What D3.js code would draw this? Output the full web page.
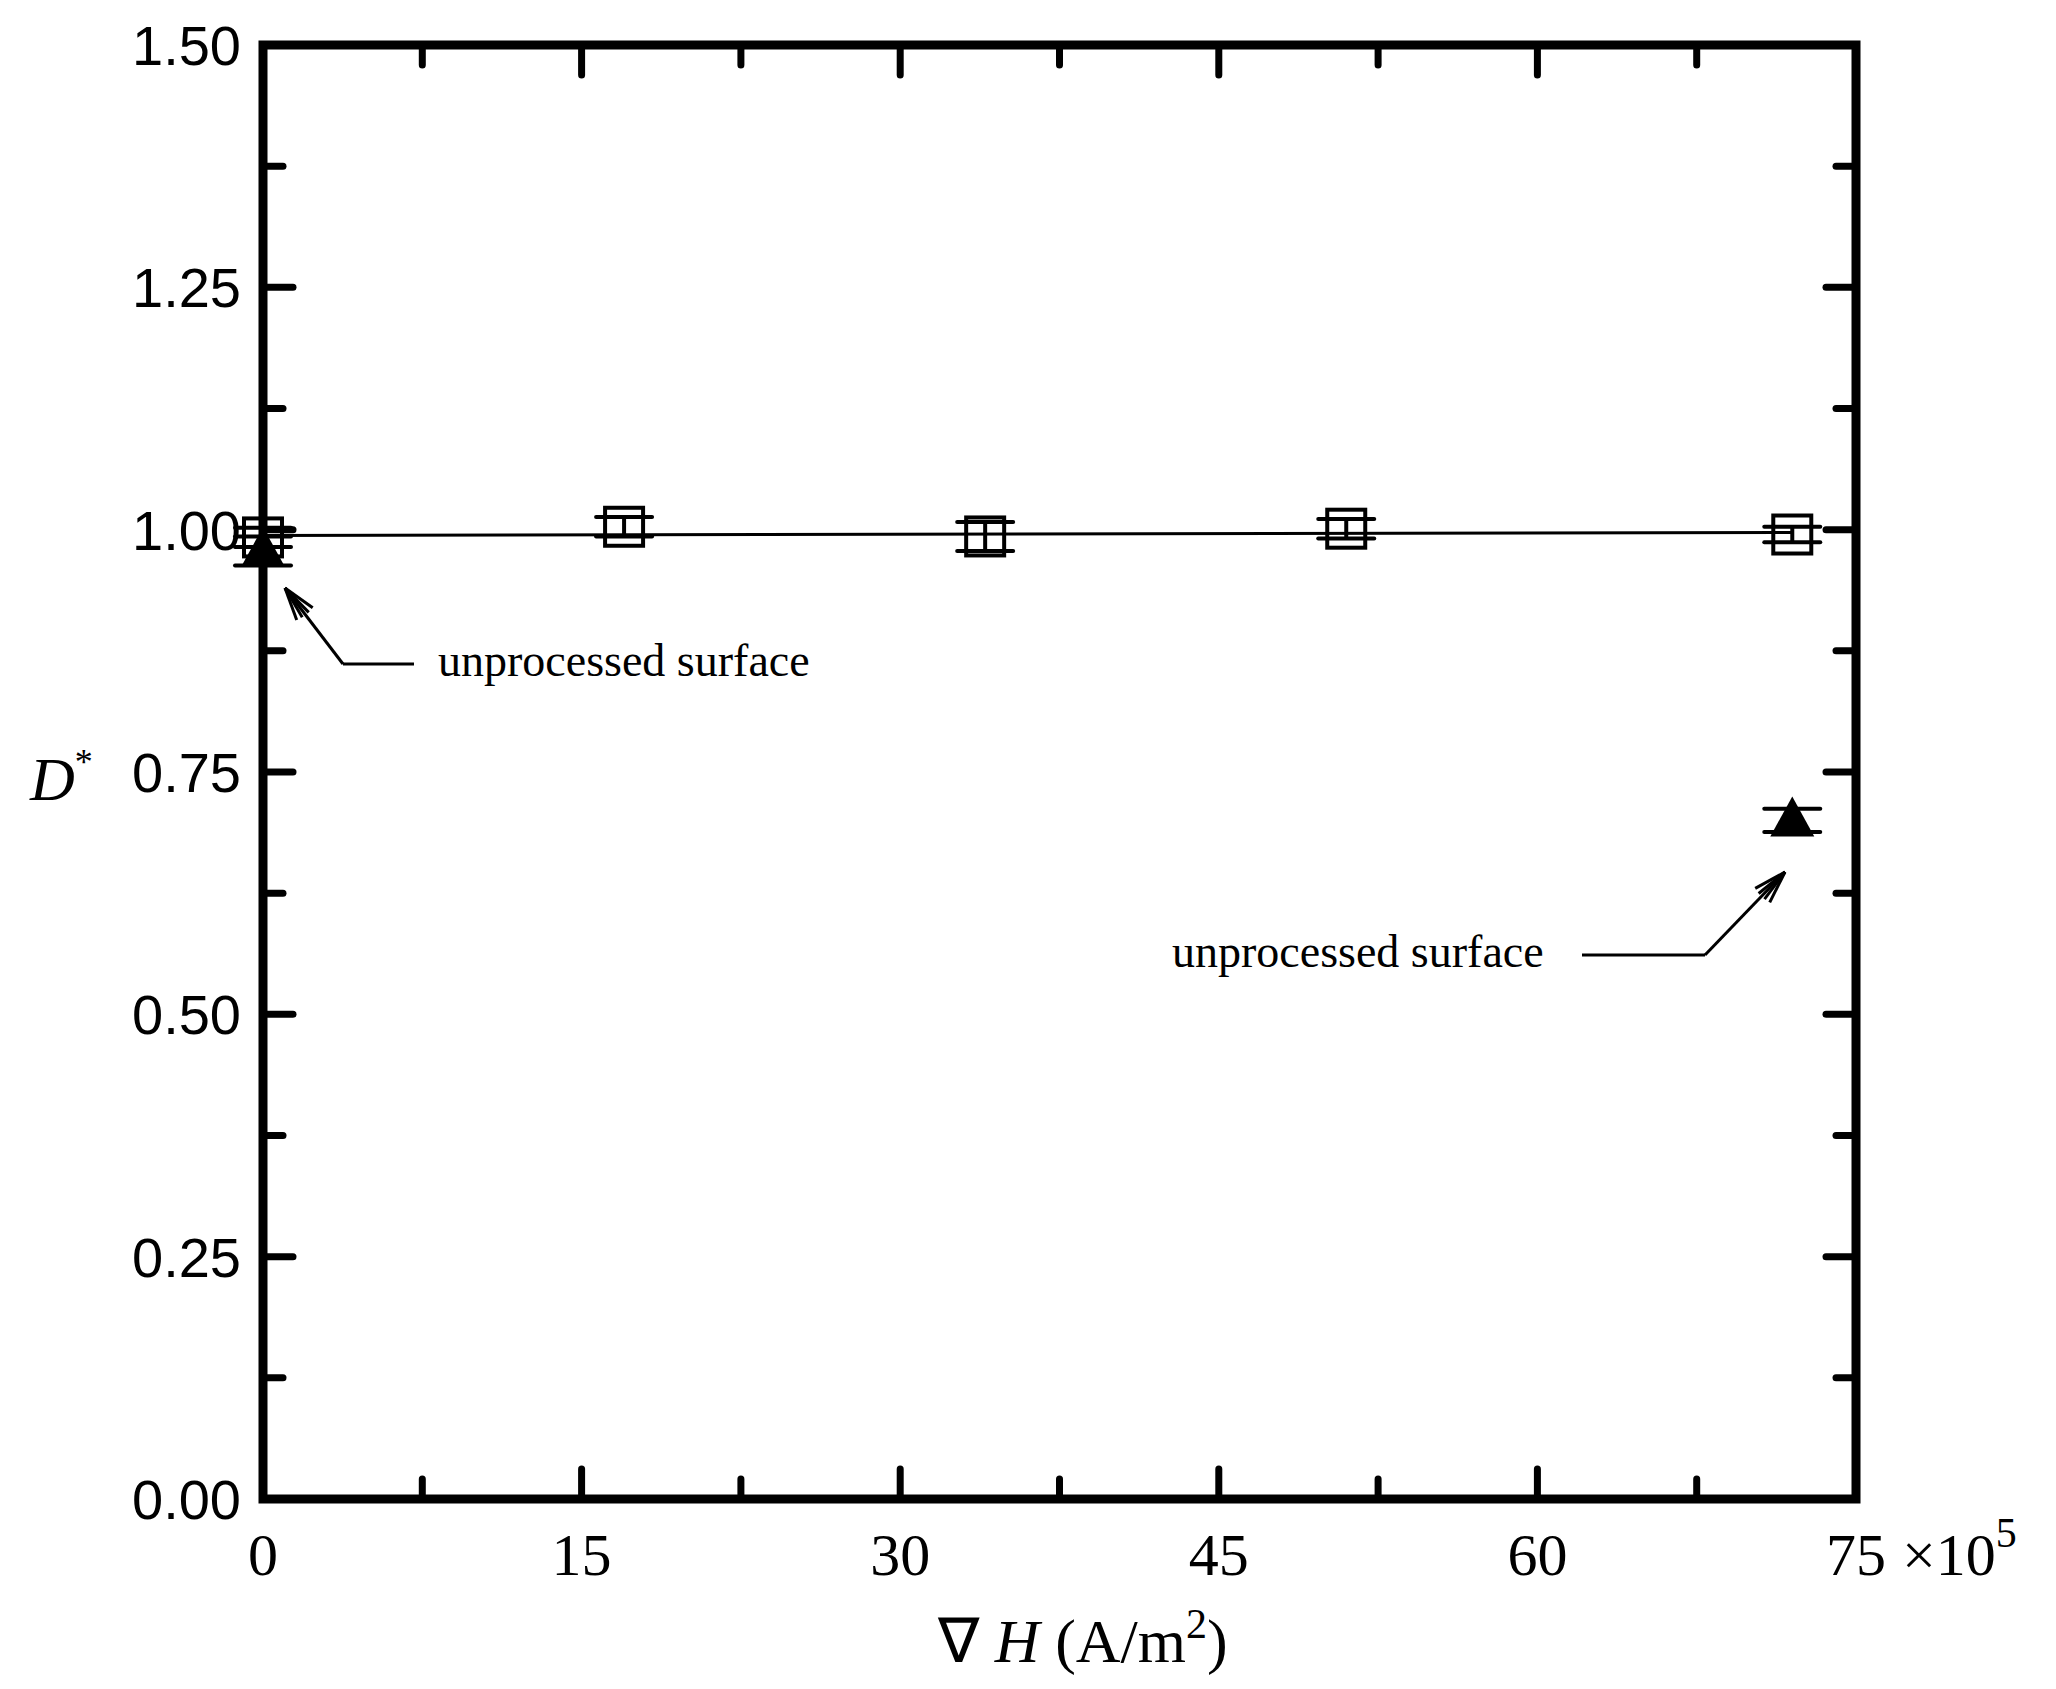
<!DOCTYPE html>
<html><head><meta charset="utf-8">
<script src="https://cdn.jsdelivr.net/npm/d3@7"></script>
<style>body{margin:0;background:#fff}</style>
</head><body>
<svg id="chart" width="2056" height="1689"></svg>
<script>
const width = 2056;
const height = 1689;

// open squares (with error bars)
const squareX = [0, 17, 34, 51, 72];
const squareY = [0.992, 1.003, 0.993, 1.001, 0.995];
const squareErr = [0.01, 0.01, 0.015, 0.01, 0.008];
// filled triangles (unprocessed surface)
const triX = [0, 72];
const triY = [0.978, 0.70];
const triErr = [0.015, 0.012];
// fit line
const fitX = [0, 72];
const fitY = [0.994, 0.997];

const xTicks = [0, 15, 30, 45, 60, 75];
const yTicks = [0, 0.25, 0.5, 0.75, 1.0, 1.25, 1.5];

const m = {left: 263, right: 2056 - 1856, top: 45, bottom: 1689 - 1499};

const xScale = d3.scaleLinear().domain([0, 75]).range([m.left, width - m.right]);
const yScale = d3.scaleLinear().domain([0, 1.5]).range([height - m.bottom, m.top]);

const svg = d3.select('#chart');
const x0 = xScale(0), x1 = xScale(75), y0 = yScale(0), y1 = yScale(1.5);

// ticks: major and minor, inward on all four sides
const xMinor = d3.range(7.5, 75, 15);
const yMinor = d3.range(0.125, 1.5, 0.25);
const tk = svg.append('g').attr('stroke', '#000').attr('stroke-width', 7).attr('stroke-linecap', 'round');
const drawX = (vals, len) => vals.forEach(v => {
    tk.append('line').attr('x1', xScale(v)).attr('x2', xScale(v)).attr('y1', y0).attr('y2', y0 - len);
    tk.append('line').attr('x1', xScale(v)).attr('x2', xScale(v)).attr('y1', y1).attr('y2', y1 + len);
});
const drawY = (vals, len) => vals.forEach(v => {
    tk.append('line').attr('y1', yScale(v)).attr('y2', yScale(v)).attr('x1', x0).attr('x2', x0 + len);
    tk.append('line').attr('y1', yScale(v)).attr('y2', yScale(v)).attr('x1', x1).attr('x2', x1 - len);
});
drawX(xTicks, 30); drawX(xMinor, 20);
drawY(yTicks, 30); drawY(yMinor, 20);

svg.append('rect').attr('x', x0).attr('y', y1).attr('width', x1 - x0).attr('height', y0 - y1)
    .attr('fill', 'none').attr('stroke', '#000').attr('stroke-width', 9);

// tick labels
svg.append('g').selectAll('text').data(yTicks).join('text')
    .attr('x', x0 - 22).attr('y', d => yScale(d)).attr('dy', '0.36em')
    .attr('text-anchor', 'end').attr('font-family', 'Liberation Sans, Arial, sans-serif')
    .attr('font-size', 56).text(d3.format('.2f'));
svg.append('g').selectAll('text').data(xTicks).join('text')
    .attr('x', d => xScale(d)).attr('y', y0 + 76)
    .attr('text-anchor', 'middle').attr('font-family', 'Liberation Serif, Times New Roman, serif')
    .attr('font-size', 60).text(d => d);
svg.append('text').attr('x', x1 + 46).attr('y', y0 + 76)
    .attr('font-family', 'Liberation Serif, serif').attr('font-size', 60)
    .html('×10<tspan dy="-28" font-size="42">5</tspan>');

// axis titles
svg.append('text').attr('x', 1083).attr('y', 1662).attr('text-anchor', 'middle')
    .attr('font-family', 'Liberation Serif, serif').attr('font-size', 62)
    .html('∇ <tspan font-style="italic">H</tspan> (A/m<tspan dy="-24" font-size="42">2</tspan><tspan dy="24">)</tspan>');
svg.append('text').attr('x', 30).attr('y', 800)
    .attr('font-family', 'Liberation Serif, serif').attr('font-size', 62)
    .html('<tspan font-style="italic">D</tspan><tspan dy="-26" font-size="36">*</tspan>');

// fit line
svg.append('path').datum(fitX.map((x, i) => [x, fitY[i]]))
    .attr('d', d3.line().x(d => xScale(d[0])).y(d => yScale(d[1])))
    .attr('stroke', '#000').attr('stroke-width', 3).attr('fill', 'none');

// error bars
const errBar = (xs, ys, es) => xs.forEach((x, i) => {
    const cx = xScale(x);
    [ys[i] - es[i], ys[i] + es[i]].forEach(v => {
        svg.append('line').attr('x1', cx - 28).attr('x2', cx + 28).attr('y1', yScale(v)).attr('y2', yScale(v))
            .attr('stroke', '#000').attr('stroke-width', 4).attr('stroke-linecap', 'round');
    });
    svg.append('line').attr('x1', cx).attr('x2', cx).attr('y1', yScale(ys[i] - es[i])).attr('y2', yScale(ys[i] + es[i]))
        .attr('stroke', '#000').attr('stroke-width', 4);
});
errBar(squareX, squareY, squareErr);
errBar(triX, triY, triErr);

// markers
svg.append('g').selectAll('rect').data(squareX).join('rect')
    .attr('x', d => xScale(d) - 19).attr('y', (d, i) => yScale(squareY[i]) - 19)
    .attr('width', 38).attr('height', 38).attr('fill', 'none').attr('stroke', '#000').attr('stroke-width', 4);
svg.append('g').selectAll('path').data(triX).join('path')
    .attr('transform', (d, i) => `translate(${xScale(d)},${yScale(triY[i])})`)
    .attr('d', 'M0,-24L22,16L-22,16Z').attr('fill', '#000');

// annotations
const serif = 'Liberation Serif, Times New Roman, serif';
function annot(pts, tip) {
    svg.append('path').datum(pts).attr('d', d3.line()).attr('stroke', '#000').attr('stroke-width', 3).attr('fill', 'none');
    const p = pts[pts.length - 1];
    const a = Math.atan2(p[1] - tip[1], p[0] - tip[0]);
    svg.append('line').attr('x1', p[0]).attr('y1', p[1]).attr('x2', tip[0]).attr('y2', tip[1]).attr('stroke', '#000').attr('stroke-width', 3);
    [-0.3, -0.12, 0.12, 0.3].forEach(da => {
        svg.append('line').attr('x1', tip[0]).attr('y1', tip[1])
            .attr('x2', tip[0] + 34 * Math.cos(a + da)).attr('y2', tip[1] + 34 * Math.sin(a + da))
            .attr('stroke', '#000').attr('stroke-width', 3);
    });
}
annot([[414, 664], [343, 664]], [285, 588]);
svg.append('text').attr('x', 438).attr('y', 676).attr('font-family', serif).attr('font-size', 46).text('unprocessed surface');
annot([[1582, 955], [1705, 955]], [1785, 872]);
svg.append('text').attr('x', 1172).attr('y', 967).attr('font-family', serif).attr('font-size', 46).text('unprocessed surface');
</script>
</body></html>
